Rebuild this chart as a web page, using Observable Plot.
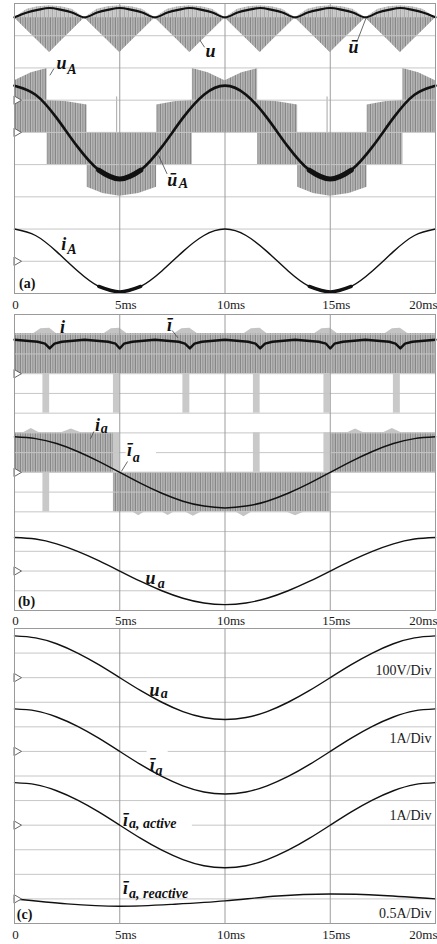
<!DOCTYPE html>
<html>
<head>
<meta charset="utf-8">
<script src="https://cdn.jsdelivr.net/npm/d3@7"></script>
<script src="https://cdn.jsdelivr.net/npm/@observablehq/plot@0.6"></script>
<style>
  html, body { margin: 0; padding: 0; background: #fff; }
  body { width: 437px; overflow: hidden; }
  #chart svg { display: block; }
</style>
</head>
<body>
<svg style="position:absolute;width:0;height:0" aria-hidden="true">
  <defs>
    <pattern id="hatchMid" width="5" height="10" patternUnits="userSpaceOnUse">
      <rect width="5" height="10" fill="#b9b9b9"/>
      <rect x="0" width="1" height="10" fill="#878787"/>
      <rect x="2" width="1.2" height="10" fill="#9d9d9d"/>
      <rect x="3.7" width="0.6" height="10" fill="#929292"/>
    </pattern>
    <pattern id="hatchLight" width="4" height="10" patternUnits="userSpaceOnUse">
      <rect width="4" height="10" fill="#cdcdcd"/>
      <rect x="0" width="1" height="10" fill="#ababab"/>
      <rect x="2.5" width="0.7" height="10" fill="#bababa"/>
    </pattern>
  </defs>
</svg>
<div id="chart"></div>
<script>
// ---------------- axis ----------------
const timeTicks = [0, 5, 10, 15, 20];
const timeTickLabels = ["0", "5ms", "10ms", "15ms", "20ms"];

// ---------------- panel (a) : values in screen divisions, relative to each trace's zero marker ----------------
const uTime  = [0,0.6,1.1,1.67,2.23,2.73,3.33,3.93,4.43,5,5.57,6.07,6.67,7.27,7.77,8.33,8.9,9.4,10,10.6,11.1,11.67,12.23,12.73,13.33,13.93,14.43,15,15.57,16.07,16.67,17.27,17.77,18.33,18.9,19.4,20];
const uUpper = [2.56,2.82,2.90,2.93,2.90,2.82,2.56,2.82,2.90,2.93,2.90,2.82,2.56,2.82,2.90,2.93,2.90,2.82,2.56,2.82,2.90,2.93,2.90,2.82,2.56,2.82,2.90,2.93,2.90,2.82,2.56,2.82,2.90,2.93,2.90,2.82,2.56];
const uLower = [2.56,2.17,1.85,1.48,1.85,2.17,2.56,2.17,1.85,1.48,1.85,2.17,2.56,2.17,1.85,1.48,1.85,2.17,2.56,2.17,1.85,1.48,1.85,2.17,2.56,2.17,1.85,1.48,1.85,2.17,2.56,2.17,1.85,1.48,1.85,2.17,2.56];
const uMean  = [2.57,2.72,2.80,2.86,2.80,2.72,2.57,2.72,2.80,2.86,2.80,2.72,2.57,2.72,2.80,2.86,2.80,2.72,2.57,2.72,2.80,2.86,2.80,2.72,2.57,2.72,2.80,2.86,2.80,2.72,2.57,2.72,2.80,2.86,2.80,2.72,2.57];
const uPinch = 2.56;

const uATime  = [0,0.8,1.55, 1.55,2.5,3.45, 3.45,4.2,5,5.9,6.75, 6.75,7.6,8.45, 8.45,9.2,10,10.8,11.55, 11.55,12.5,13.45, 13.45,14.2,15,15.9,16.75, 16.75,17.6,18.45, 18.45,19.2,20];
const uAUpper = [1.6,1.85,1.98, 1.0,0.95,0.85, 0,0,0,0,0, 0.85,0.95,1.0, 1.98,1.85,1.6,1.85,1.98, 1.0,0.95,0.85, 0,0,0,0,0, 0.85,0.95,1.0, 1.98,1.85,1.6];
const uALower = [0,0,0, -1,-1,-1, -1.7,-1.9,-1.98,-1.9,-1.7, -1,-1,-1, 0,0,0,0,0, -1,-1,-1, -1.7,-1.9,-1.98,-1.9,-1.7, -1,-1,-1, 0,0,0];
const uASpikeTime = [4.85, 14.85];
const uASpikeTop = [1.1, 1.1];

const msTime  = [0,1,2,3,4,5,6,7,8,9,10,11,12,13,14,15,16,17,18,19,20];
const uAMean  = [1.45,1.17,0.45,-0.45,-1.17,-1.45,-1.17,-0.45,0.45,1.17,1.45,1.17,0.45,-0.45,-1.17,-1.45,-1.17,-0.45,0.45,1.17,1.45];
const iAValue = [1.0,0.8,0.3,-0.3,-0.78,-0.95,-0.78,-0.3,0.3,0.8,1.0,0.8,0.3,-0.3,-0.78,-0.95,-0.78,-0.3,0.3,0.8,1.0];

// ---------------- panel (b) ----------------
const iBandLevel = 2.03;
const iBumpTime = [0,0.9,1.25,1.67,2.0,4.25,4.6,5.0,5.35,7.6,7.95,8.33,8.7,10.9,11.25,11.67,12.0,14.25,14.6,15.0,15.35,17.6,17.95,18.33,18.7,20];
const iBumpTop  = [2.03,2.03,2.28,2.3,2.03,2.03,2.28,2.3,2.03,2.03,2.28,2.3,2.03,2.03,2.28,2.3,2.03,2.03,2.28,2.3,2.03,2.03,2.28,2.3,2.03,2.03];
const iReverseStart = [1.35, 4.7, 8.0, 11.35, 14.7, 18.0];
const iReverseEnd   = [1.67, 5.0, 8.33, 11.67, 15.0, 18.33];
const iReverseDepth = -2;
const iMeanTime = [0,1.1,1.45,1.67,1.9,2.25,3.33,4.45,4.8,5,5.2,5.6,6.67,7.8,8.1,8.33,8.55,8.9,10,11.1,11.45,11.67,11.9,12.25,13.33,14.45,14.8,15,15.2,15.6,16.67,17.8,18.1,18.33,18.55,18.9,20];
const iMean     = [1.72,1.62,1.52,1.28,1.52,1.62,1.72,1.62,1.52,1.28,1.52,1.62,1.72,1.62,1.52,1.28,1.52,1.62,1.72,1.62,1.52,1.28,1.52,1.62,1.72,1.62,1.52,1.28,1.52,1.62,1.72,1.62,1.52,1.28,1.52,1.62,1.72];

const iaBlockStart = [0, 4.7, 15.0];
const iaBlockEnd   = [4.7, 15.0, 20];
const iaBlockLevel = [2.0, -2.0, 2.0];
const iaBarStart = [1.35, 4.7, 11.35, 14.7];
const iaBarEnd   = [1.67, 5.0, 11.67, 15.0];
const iaBarLevel = [-2.0, 2.0, 2.0, 2.0];
const iaFringeTime = [0,0.4,0.8,1.2,2.2,2.7,3.2,4.7, 4.7,5.6,5.9,6.2,7.0,7.3,7.6,8.1,8.5,8.9,10.5,10.9,11.3,12.9,13.35,13.8,15.0, 15.0,15.8,16.2,16.6,17.5,17.95,18.4,20];
const iaFringeBase = [2,2,2,2,2,2,2,2, -2,-2,-2,-2,-2,-2,-2,-2,-2,-2,-2,-2,-2,-2,-2,-2,-2, 2,2,2,2,2,2,2,2];
const iaFringeEdge = [2,2,2.22,2,2,2.2,2,2, -2,-2,-2.2,-2,-2,-2.18,-2,-2,-2.22,-2,-2,-2.25,-2,-2,-2.2,-2,-2, 2,2,2.2,2,2,2.22,2,2];
const iaMeanB = [1.80,1.71,1.46,1.06,0.56,0,-0.56,-1.06,-1.46,-1.71,-1.80,-1.71,-1.46,-1.06,-0.56,0,0.56,1.06,1.46,1.71,1.80];
const uaB     = [1.70,1.62,1.38,1.00,0.53,0,-0.53,-1.00,-1.38,-1.62,-1.70,-1.62,-1.38,-1.00,-0.53,0,0.53,1.00,1.38,1.62,1.70];

// ---------------- panel (c) ----------------
const uaC       = [1.70,1.62,1.38,1.00,0.53,0,-0.53,-1.00,-1.38,-1.62,-1.70,-1.62,-1.38,-1.00,-0.53,0,0.53,1.00,1.38,1.62,1.70];
const iaMeanC   = [1.73,1.65,1.40,1.02,0.54,0,-0.54,-1.02,-1.40,-1.65,-1.73,-1.65,-1.40,-1.02,-0.54,0,0.54,1.02,1.40,1.65,1.73];
const iaActiveC = [1.73,1.65,1.40,1.02,0.54,0,-0.54,-1.02,-1.40,-1.65,-1.73,-1.65,-1.40,-1.02,-0.54,0,0.54,1.02,1.40,1.65,1.73];
const reactiveTime = [0,2.5,5,7.5,10,12.5,15,17.5,20];
const iaReactiveC  = [0,-0.2,-0.3,-0.22,-0.08,0.12,0.2,0.14,0];
const scaleLabels = ["100V/Div", "1A/Div", "1A/Div", "0.5A/Div"];

// ---------------- helpers ----------------
const SERIF = "Liberation Serif, Times New Roman, serif";
const zip = (t, v, zero) => t.map((x, i) => ({t: x, v: v[i] + zero}));
const zip2 = (t, a, b, zero) => t.map((x, i) => ({t: x, a: a[i] + zero, b: b[i] + zero}));
const tickFormat = d => timeTickLabels[timeTicks.indexOf(d)];

function gridMarks(divisions) {
  return [
    Plot.ruleY(d3.range(1, divisions), {stroke: "#c6c6c6", strokeWidth: 1}),
    Plot.ruleX([5, 10, 15], {stroke: "#9d9d9d", strokeWidth: 1})
  ];
}
function markers(levels) {
  return Plot.dot(levels, {x: 0, y: d => d, symbol: "triangle", r: 3.2, rotate: 90, dx: 2,
    fill: "white", stroke: "#555", strokeWidth: 0.9});
}
function labelMarks(pieces) {
  return [
    Plot.text(pieces.filter(p => p.k === "big"), {x: "t", y: "y", text: "s", fontSize: 18, fontWeight: "bold", fontStyle: "italic", fontFamily: SERIF, fill: "#111"}),
    Plot.text(pieces.filter(p => p.k === "sub"), {x: "t", y: "y", text: "s", fontSize: 14, fontWeight: "bold", fontStyle: "italic", fontFamily: SERIF, fill: "#111", textAnchor: "start"}),
    Plot.text(pieces.filter(p => p.k === "tag"), {x: "t", y: "y", text: "s", fontSize: 14, fontWeight: "bold", fontFamily: SERIF, fill: "#111"})
  ];
}
function leaders(list) {
  return Plot.link(list, {x1: "t1", y1: "y1", x2: "t2", y2: "y2", stroke: "#444", strokeWidth: 0.8});
}
function timeAxis(pad) {
  const common = {tickSize: 0, tickPadding: pad, label: null, fontSize: 13, tickFormat};
  return [
    Plot.axisX(timeTicks.slice(0, 1), {...common, dx: 1}),
    Plot.axisX(timeTicks.slice(1, 4), {...common, dx: 6}),
    Plot.axisX(timeTicks.slice(4), {...common, textAnchor: "end", dx: 2})
  ];
}
function panel({height, marginTop, marginBottom, divisions, under, over, tickPadding}) {
  return Plot.plot({
    width: 437, height, marginTop, marginBottom, marginLeft: 14, marginRight: 2,
    x: {domain: [0, 20]},
    y: {domain: [0, divisions], axis: null},
    style: {fontFamily: SERIF, fontSize: "13px", color: "#1a1a1a", background: "white"},
    marks: [
      ...under,
      ...gridMarks(divisions),
      ...over,
      Plot.frame({stroke: "#9a9a9a", strokeWidth: 1}),
      ...timeAxis(tickPadding)
    ]
  });
}

// ---------------- panel (a) ----------------
const zA = {u: 6, uA: 5, iA: 1};
const uData = zip2(uTime, uLower, uUpper, zA.u);
const uAData = zip2(uATime, uALower, uAUpper, zA.uA);
const uAMeanData = zip(msTime, uAMean, zA.uA);
const iAData = zip(msTime, iAValue, zA.iA);
const thick = {x: "t", y: "v", curve: "natural", stroke: "#111", strokeLinecap: "round"};

const panelA = panel({
  height: 313, marginTop: 3, marginBottom: 20, divisions: 9, tickPadding: 6,
  under: [
    Plot.areaY(uData, {x: "t", y1: "a", y2: "b", fill: "url(#hatchLight)"}),
    Plot.areaY(uData, {x: "t", y1: "a", y2: () => uPinch + zA.u, fill: "url(#hatchMid)"}),
    Plot.areaY(uAData, {x: "t", y1: "a", y2: "b", fill: "url(#hatchMid)"}),
    Plot.ruleX(uASpikeTime, {x: d => d, y1: zA.uA, y2: (d, i) => uASpikeTop[i] + zA.uA, stroke: "#b5b5b5", strokeWidth: 1.2})
  ],
  over: [
    Plot.line(zip(uTime, uMean, zA.u), {x: "t", y: "v", curve: "catmull-rom", stroke: "#111", strokeWidth: 2.2}),
    Plot.line(uAMeanData, {...thick, strokeWidth: 2.6}),
    Plot.line(uAMeanData.filter(d => d.t >= 4 && d.t <= 6), {...thick, strokeWidth: 5}),
    Plot.line(uAMeanData.filter(d => d.t >= 14 && d.t <= 16), {...thick, strokeWidth: 5}),
    Plot.line(iAData, {x: "t", y: "v", curve: "natural", stroke: "#111", strokeWidth: 1.4}),
    Plot.line(iAData.filter(d => d.t >= 4 && d.t <= 6), {...thick, strokeWidth: 3.4}),
    Plot.line(iAData.filter(d => d.t >= 14 && d.t <= 16), {...thick, strokeWidth: 3.4}),
    markers([zA.u, zA.uA, zA.iA]),
    leaders([
      {t1: 9.03, y1: 7.64, t2: 8.81, y2: 7.86},
      {t1: 16.26, y1: 7.80, t2: 16.69, y2: 8.53},
      {t1: 1.87, y1: 6.98, t2: 1.68, y2: 6.77},
      {t1: 7.25, y1: 3.71, t2: 6.85, y2: 4.28}
    ]),
    ...labelMarks([
      {s: "u", t: 9.31, y: 7.51, k: "big"},
      {s: "ū", t: 16.10, y: 7.64, k: "big"},
      {s: "u", t: 2.23, y: 7.16, k: "big"},
      {s: "A", t: 2.50, y: 6.95, k: "sub"},
      {s: "ū", t: 7.49, y: 3.53, k: "big"},
      {s: "A", t: 7.80, y: 3.40, k: "sub"},
      {s: "i", t: 2.34, y: 1.52, k: "big"},
      {s: "A", t: 2.50, y: 1.35, k: "sub"},
      {s: "(a)", t: 0.60, y: 0.30, k: "tag"}
    ])
  ]
});

// ---------------- panel (b) ----------------
const zB = {i: 12, ia: 7, ua: 2};
const panelB = panel({
  height: 314, marginTop: 1, marginBottom: 17, divisions: 15, tickPadding: 5,
  under: [
    Plot.rect([{t0: 0, t1: 20}], {x1: "t0", x2: "t1", y1: zB.i, y2: zB.i + iBandLevel, fill: "url(#hatchMid)"}),
    Plot.areaY(iBumpTime.map((t, i) => ({t, v: iBumpTop[i] + zB.i})), {x: "t", y1: zB.i + iBandLevel, y2: "v", fill: "#c4c4c4"}),
    Plot.rect(iReverseStart.map((s, i) => ({s, e: iReverseEnd[i]})), {x1: "s", x2: "e", y1: zB.i, y2: zB.i + iReverseDepth, fill: "#c9c9c9"}),
    Plot.rect(iaBlockStart.map((s, i) => ({s, e: iaBlockEnd[i], l: iaBlockLevel[i] + zB.ia})), {x1: "s", x2: "e", y1: zB.ia, y2: "l", fill: "url(#hatchMid)"}),
    Plot.areaY(iaFringeTime.map((t, i) => ({t, a: iaFringeBase[i] + zB.ia, b: iaFringeEdge[i] + zB.ia})), {x: "t", y1: "a", y2: "b", fill: "#c4c4c4"}),
    Plot.rect(iaBarStart.map((s, i) => ({s, e: iaBarEnd[i], l: iaBarLevel[i] + zB.ia})), {x1: "s", x2: "e", y1: zB.ia, y2: "l", fill: "#c9c9c9"})
  ],
  over: [
    Plot.rect([{t0: 5.3, t1: 6.75}], {x1: "t0", x2: "t1", y1: 7.9, y2: 8.1, fill: "white"}),
    Plot.line(zip(iMeanTime, iMean, zB.i), {x: "t", y: "v", curve: "linear", stroke: "#111", strokeWidth: 2.4}),
    Plot.line(zip(msTime, iaMeanB, zB.ia), {x: "t", y: "v", curve: "natural", stroke: "#111", strokeWidth: 1.5}),
    Plot.line(zip(msTime, uaB, zB.ua), {x: "t", y: "v", curve: "natural", stroke: "#111", strokeWidth: 1.4}),
    markers([zB.i, zB.ia, zB.ua]),
    leaders([
      {t1: 7.49, y1: 14.19, t2: 7.76, y2: 13.82},
      {t1: 3.77, y1: 9.07, t2: 3.61, y2: 8.70},
      {t1: 5.37, y1: 7.55, t2: 5.08, y2: 7.05}
    ]),
    ...labelMarks([
      {s: "i", t: 2.28, y: 14.34, k: "big"},
      {s: "ī", t: 7.36, y: 14.44, k: "big"},
      {s: "i", t: 3.94, y: 9.38, k: "big"},
      {s: "a", t: 4.10, y: 9.22, k: "sub"},
      {s: "ī", t: 5.46, y: 8.11, k: "big"},
      {s: "a", t: 5.62, y: 7.77, k: "sub"},
      {s: "u", t: 6.46, y: 1.61, k: "big"},
      {s: "a", t: 6.80, y: 1.39, k: "sub"},
      {s: "(b)", t: 0.57, y: 0.46, k: "tag"}
    ])
  ]
});

// ---------------- panel (c) ----------------
const zC = {ua: 10, ia: 7, iaAct: 4, iaReact: 1};
const panelC = panel({
  height: 317, marginTop: 1, marginBottom: 21, divisions: 12, tickPadding: 6,
  under: [],
  over: [
    Plot.rect([{t0: 6.3, t1: 7.3, y: 7}, {t0: 5.05, t1: 8.45, y: 4}], {x1: "t0", x2: "t1", y1: d => d.y - 0.08, y2: d => d.y + 0.08, fill: "white"}),
    Plot.line(zip(msTime, uaC, zC.ua), {x: "t", y: "v", curve: "natural", stroke: "#111", strokeWidth: 1.4}),
    Plot.line(zip(msTime, iaMeanC, zC.ia), {x: "t", y: "v", curve: "natural", stroke: "#111", strokeWidth: 1.4}),
    Plot.line(zip(msTime, iaActiveC, zC.iaAct), {x: "t", y: "v", curve: "natural", stroke: "#111", strokeWidth: 1.4}),
    Plot.line(zip(reactiveTime, iaReactiveC, zC.iaReact), {x: "t", y: "v", curve: "natural", stroke: "#111", strokeWidth: 1.4}),
    markers([zC.ua, zC.ia, zC.iaAct, zC.iaReact]),
    Plot.text(scaleLabels, {x: 19.81, y: (d, i) => [10.29, 7.53, 4.39, 0.41][i], text: d => d, textAnchor: "end", fontSize: 14, fontFamily: SERIF, fill: "#1a1a1a"}),
    ...labelMarks([
      {s: "u", t: 6.65, y: 9.49, k: "big"},
      {s: "a", t: 6.95, y: 9.37, k: "sub"},
      {s: "ī", t: 6.54, y: 6.43, k: "big"},
      {s: "a", t: 6.70, y: 6.24, k: "sub"},
      {s: "ī", t: 5.27, y: 4.19, k: "big"},
      {s: "a, active", t: 5.44, y: 4.08, k: "sub"},
      {s: "ī", t: 5.27, y: 1.42, k: "big"},
      {s: "a, reactive", t: 5.44, y: 1.24, k: "sub"},
      {s: "(c)", t: 0.48, y: 0.37, k: "tag"}
    ])
  ]
});

const chart = document.getElementById("chart");
chart.append(panelA, panelB, panelC);
</script>
</body>
</html>
